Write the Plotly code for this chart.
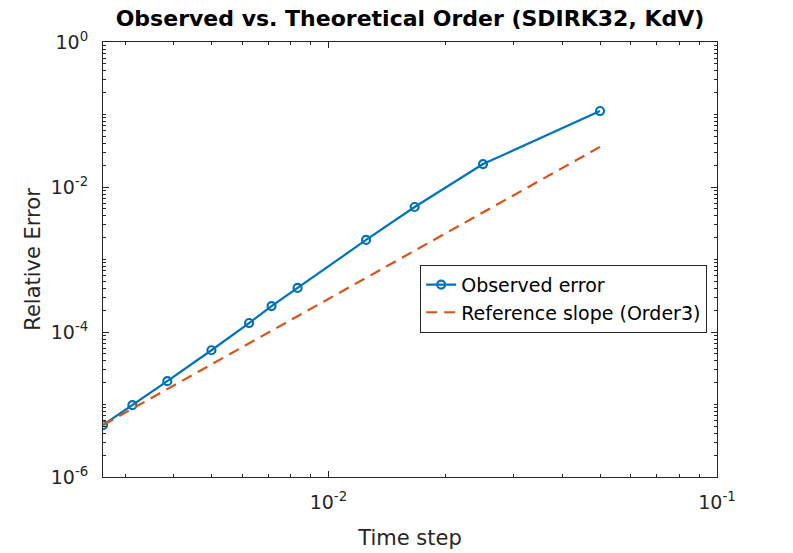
import numpy as np
import plotly.graph_objects as go

# Data
dt = [0.05, 0.025, 0.01667, 0.0125, 0.00833, 0.00714, 0.00625, 0.005, 0.00385, 0.00313, 0.00263]
err = [0.1117, 2.07e-2, 5.3e-3, 1.86e-3, 4.05e-4, 2.28e-4, 1.33e-4, 5.6e-5, 2.1e-5, 9.8e-6, 5.2e-6]
order = 3

x_tick_vals = [0.01, 0.1]
x_tick_text = ["10<sup>-2</sup>", "10<sup>-1</sup>"]
y_tick_vals = [1e-6, 1e-4, 1e-2, 1]
y_tick_text = ["10<sup>-6</sup>", "10<sup>-4</sup>", "10<sup>-2</sup>", "10<sup>0</sup>"]

dt_arr = np.array(dt)
ref = err[-1] * (dt_arr / dt[-1]) ** order

blue = "#0072BD"
orange = "#D95319"
axcol = "#262626"
font = "DejaVu Sans, Liberation Sans, Arial, sans-serif"

fig = go.Figure()
fig.add_trace(go.Scatter(
    x=dt, y=err, mode="lines+markers", name="Observed error",
    line=dict(color=blue, width=2.2),
    marker=dict(symbol="circle-open", size=8, color=blue, line=dict(width=2.2, color=blue)),
))
fig.add_trace(go.Scatter(
    x=dt, y=ref, mode="lines", name="Reference slope (Order3)",
    line=dict(color=orange, width=2.2, dash="11px,7px"),
))

axis_common = dict(
    type="log", showline=True, linecolor=axcol, linewidth=1, mirror="allticks",
    ticks="inside", ticklen=6, tickcolor=axcol, showgrid=False, zeroline=False,
    automargin=False,
    tickfont=dict(family=font, size=19, color=axcol),
    minor=dict(ticks="inside", ticklen=3, tickcolor=axcol, dtick="D1", showgrid=False),
)

fig.update_layout(
    width=793, height=553,
    paper_bgcolor="white", plot_bgcolor="white",
    margin=dict(l=103, r=76, t=42, b=76, autoexpand=False),
    title=dict(text="<b>Observed vs. Theoretical Order (SDIRK32, KdV)</b>",
               x=(103 + 717) / 2 / 793, xanchor="center", y=1 - 18 / 553, yanchor="middle",
               font=dict(family=font, size=22, color="black")),
    xaxis=dict(axis_common, range=[np.log10(dt[-1]), -1], tickvals=x_tick_vals, ticktext=x_tick_text,
               ticklabelstandoff=8,
               title=dict(text="Time step", font=dict(family=font, size=21, color=axcol), standoff=18)),
    yaxis=dict(axis_common, range=[-6, 0], tickvals=y_tick_vals, ticktext=y_tick_text,
               ticklabelstandoff=10,
               title=dict(text="Relative Error", font=dict(family=font, size=21, color=axcol), standoff=4)),
    legend=dict(x=0.984, y=0.488, xanchor="right", yanchor="top",
                bgcolor="white", bordercolor=axcol, borderwidth=1,
                font=dict(family=font, size=19, color="black"),
                tracegroupgap=0),
    showlegend=True,
)

fig.write_html("out.html", config={"displayModeBar": False},
               post_script="document.body.style.margin='0px';")
